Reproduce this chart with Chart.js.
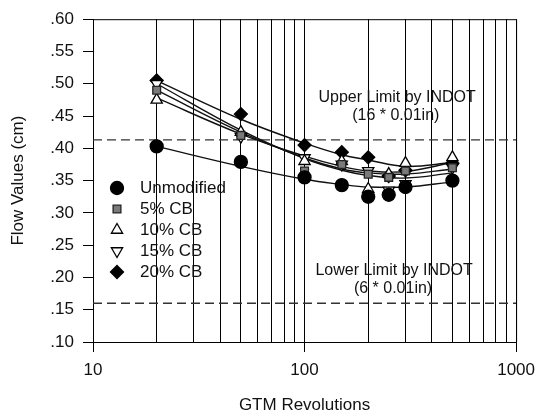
<!DOCTYPE html>
<html>
<head>
<meta charset="utf-8">
<script src="https://cdn.jsdelivr.net/npm/chart.js@4.4.1/dist/chart.umd.min.js"></script>
<style>
html, body { margin: 0; padding: 0; background: #fff; }
#wrap { width: 543px; height: 416px; }
</style>
</head>
<body>
<div id="wrap"><canvas id="graphFlow"></canvas></div>
<script>
// ===== DONNÉES =====
var revolutions = [20, 50, 100, 150, 200, 250, 300, 500];
var unmodified  = [0.403, 0.379, 0.355, 0.343, 0.325, 0.328, 0.340, 0.350];
var cb5         = [0.490, 0.420, 0.365, 0.375, 0.360, 0.355, 0.365, 0.370];
var cb10        = [0.475, 0.425, 0.380, 0.380, 0.337, 0.360, 0.377, 0.386];
var cb15        = [0.500, 0.418, 0.385, 0.375, 0.365, 0.335, 0.345, 0.370];
var cb20        = [0.505, 0.453, 0.405, 0.394, 0.386, 0.357, 0.366, 0.377];

// courbes de tendance
var fitRevs   = [20, 50, 100, 150, 200, 300, 500];
var fitUnmod  = [0.403, 0.372, 0.352, 0.344, 0.340, 0.340, 0.348];
var fitCb5    = [0.490, 0.425, 0.385, 0.368, 0.362, 0.360, 0.368];
var fitCb10   = [0.478, 0.422, 0.388, 0.372, 0.365, 0.364, 0.378];
var fitCb15   = [0.500, 0.428, 0.384, 0.366, 0.358, 0.354, 0.362];
var fitCb20   = [0.505, 0.445, 0.408, 0.390, 0.382, 0.372, 0.378];

var upperLimit = 0.413;
var lowerLimit = 0.160;

var xGridValues = [10, 20, 30, 40, 50, 60, 70, 80, 90, 100, 200, 300, 400, 500, 600, 700, 800, 900, 1000];
var xLabelValues = [10, 100, 1000];

var FONT = '"Liberation Sans", Arial, sans-serif';

function pts(xs, ys) {
    return xs.map(function (x, i) { return { x: x, y: ys[i] }; });
}

// jeux de points (marqueurs)
var markerSets = [
    { label: 'Unmodified', data: unmodified, style: 'circle',   radius: 6.5, rot: 0,   fill: '#000', border: '#000' },
    { label: '5% CB',      data: cb5,        style: 'rect',     radius: 5.5, rot: 0,   fill: '#7a7a7a', border: '#222' },
    { label: '10% CB',     data: cb10,       style: 'triangle', radius: 6.5, rot: 0,   fill: '#fff', border: '#000' },
    { label: '15% CB',     data: cb15,       style: 'triangle', radius: 6.5, rot: 180, fill: '#fff', border: '#000' },
    { label: '20% CB',     data: cb20,       style: 'rectRot',  radius: 6.5, rot: 0,   fill: '#000', border: '#000' }
];
var fitSets = [fitUnmod, fitCb5, fitCb10, fitCb15, fitCb20];

var datasets = [];
markerSets.forEach(function (m) {
    datasets.push({
        label: m.label,
        data: pts(revolutions, m.data),
        showLine: false,
        pointStyle: m.style,
        pointRadius: m.radius,
        pointRotation: m.rot,
        pointBackgroundColor: m.fill,
        pointBorderColor: m.border,
        pointBorderWidth: 1.3,
        order: 0
    });
});
fitSets.forEach(function (f) {
    datasets.push({
        label: '',
        data: pts(fitRevs, f),
        showLine: true,
        borderColor: '#111',
        borderWidth: 1.4,
        pointRadius: 0,
        tension: 0.4,
        order: 1
    });
});
// limites INDOT
[upperLimit, lowerLimit].forEach(function (v) {
    datasets.push({
        label: '',
        data: [{ x: 10, y: v }, { x: 1000, y: v }],
        showLine: true,
        borderColor: '#333',
        borderWidth: 1.3,
        borderDash: [9, 5],
        pointRadius: 0,
        order: 2
    });
});

// ===== PLUGIN : cadre, légende et annotations =====
var extras = {
    id: 'extras',
    afterDatasetsDraw: function (chart) {
        var ctx = chart.ctx;
        var a = chart.chartArea;
        var xs = chart.scales.x, ys = chart.scales.y;
        ctx.save();
        // cadre haut / droite
        ctx.strokeStyle = '#000';
        ctx.lineWidth = 1;
        ctx.beginPath();
        ctx.moveTo(a.left, a.top + 0.5);
        ctx.lineTo(a.right + 0.5, a.top + 0.5);
        ctx.lineTo(a.right + 0.5, a.bottom);
        ctx.stroke();

        // légende à l'intérieur du graphique
        ctx.font = '17px ' + FONT;
        ctx.textBaseline = 'middle';
        ctx.textAlign = 'left';
        markerSets.forEach(function (m, i) {
            var y = 188 + i * 21;
            ctx.fillStyle = m.fill;
            ctx.strokeStyle = m.border;
            ctx.lineWidth = 1.3;
            Chart.helpers.drawPoint(ctx, { pointStyle: m.style, radius: m.radius, rotation: m.rot, borderWidth: 1.3 }, 117, y);
            ctx.fillStyle = '#111';
            ctx.fillText(m.label, 140, y);
        });

        // textes des limites
        ctx.font = '16px ' + FONT;
        ctx.textAlign = 'center';
        ctx.fillStyle = '#111';
        ctx.fillText('Upper Limit by INDOT', xs.getPixelForValue(274), ys.getPixelForValue(0.479));
        ctx.fillText('(16 * 0.01in)', xs.getPixelForValue(270), ys.getPixelForValue(0.451));
        ctx.fillText('Lower Limit by INDOT', xs.getPixelForValue(265), ys.getPixelForValue(0.211));
        ctx.fillText('(6 * 0.01in)', xs.getPixelForValue(262), ys.getPixelForValue(0.183));
        ctx.restore();
    }
};

new Chart(document.getElementById('graphFlow'), {
    type: 'scatter',
    data: { datasets: datasets },
    options: {
        responsive: true,
        maintainAspectRatio: false,
        animation: false,
        devicePixelRatio: 1,
        layout: { padding: { top: 19, right: 23, left: 0, bottom: 0 } },
        plugins: {
            legend: { display: false },
            tooltip: { enabled: false }
        },
        scales: {
            x: {
                type: 'logarithmic',
                min: 10,
                max: 1000,
                afterBuildTicks: function (scale) {
                    scale.ticks = xGridValues.map(function (v) {
                        return { value: v, major: xLabelValues.indexOf(v) >= 0 };
                    });
                },
                afterFit: function (scale) { scale.height = 74; },
                ticks: {
                    autoSkip: false,
                    maxRotation: 0,
                    padding: 8,
                    color: '#111',
                    font: { family: FONT, size: 17 },
                    callback: function (v) {
                        return xLabelValues.indexOf(v) >= 0 ? String(v) : '';
                    }
                },
                grid: {
                    color: '#000',
                    lineWidth: 1,
                    tickLength: 10,
                    tickColor: function (c) {
                        return c.tick && xLabelValues.indexOf(c.tick.value) >= 0 ? '#000' : 'rgba(0,0,0,0)';
                    }
                },
                border: { display: true, color: '#000', width: 1 },
                title: {
                    display: true,
                    text: 'GTM Revolutions',
                    color: '#111',
                    font: { family: FONT, size: 17 },
                    padding: { top: 10, bottom: 0 }
                }
            },
            y: {
                min: 0.10,
                max: 0.60,
                afterFit: function (scale) { scale.width = 93; },
                ticks: {
                    stepSize: 0.05,
                    padding: 9,
                    color: '#111',
                    font: { family: FONT, size: 17 },
                    callback: function (v) {
                        return v.toFixed(2).replace(/^0/, '');
                    }
                },
                grid: {
                    drawOnChartArea: false,
                    drawTicks: true,
                    tickLength: 10,
                    tickColor: '#000'
                },
                border: { display: true, color: '#000', width: 1 },
                title: {
                    display: true,
                    text: 'Flow Values (cm)',
                    color: '#111',
                    font: { family: FONT, size: 17 },
                    padding: { top: 8, bottom: 4 }
                }
            }
        }
    },
    plugins: [extras]
});
</script>
</body>
</html>
